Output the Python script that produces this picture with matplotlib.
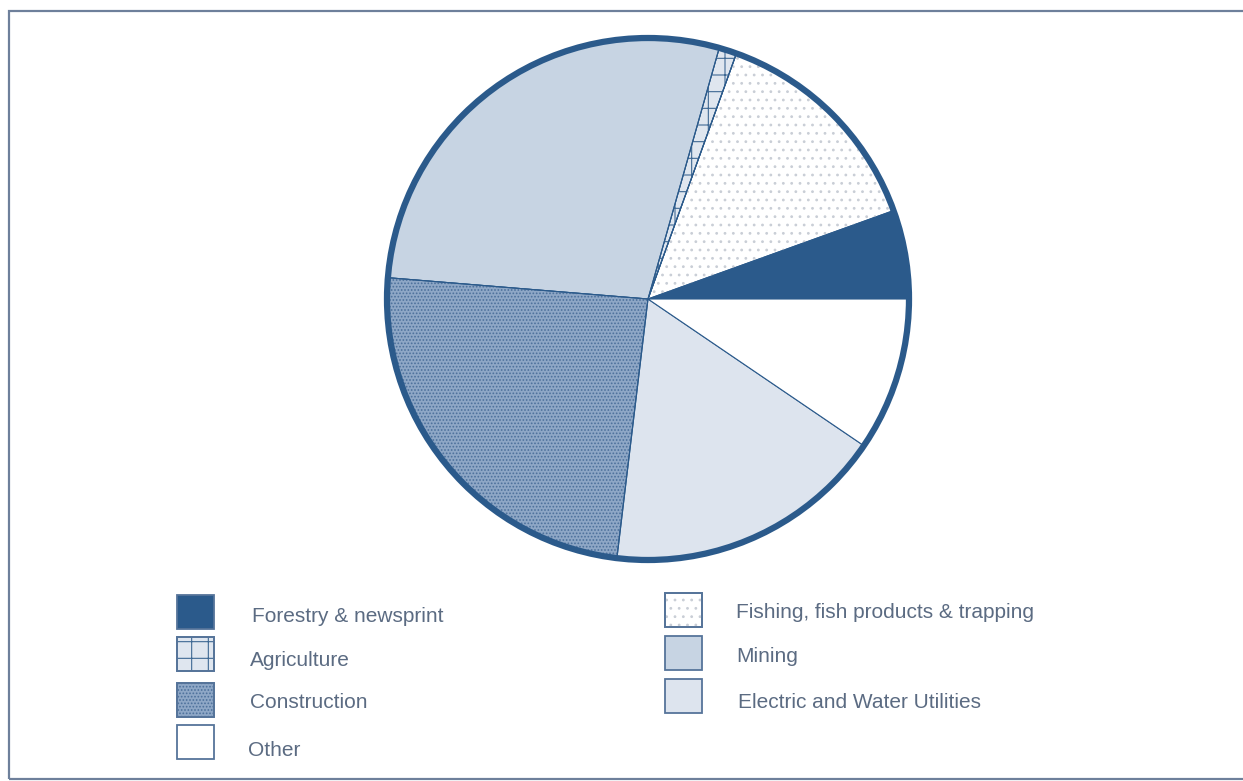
import matplotlib.pyplot as plt
from matplotlib.patches import Circle, Rectangle, Wedge

# sector shares (percent), drawn counter-clockwise from 3 o'clock
sectors = [
    "Forestry & newsprint",
    "Fishing, fish products & trapping",
    "Agriculture",
    "Mining",
    "Construction",
    "Electric and Water Utilities",
    "Other",
]
shares = [5.5, 14.0, 1.1, 28.1, 24.4, 17.4, 9.5]

# legend layout: left column then right column
legend_left = ["Forestry & newsprint", "Agriculture", "Construction", "Other"]
legend_right = ["Fishing, fish products & trapping", "Mining", "Electric and Water Utilities"]

DARK = "#2b5a8b"
TEXT = "#5b6b82"
styles = {
    "Forestry & newsprint": dict(face=DARK, hatch=None, hcol=None),
    "Fishing, fish products & trapping": dict(face="#ffffff", hatch="..", hcol="#c9ced6"),
    "Agriculture": dict(face="#dfe6ef", hatch="+", hcol="#3f6994"),
    "Mining": dict(face="#c7d4e3", hatch=None, hcol=None),
    "Construction": dict(face="#8ea7c6", hatch=".....", hcol="#4c709b"),
    "Electric and Water Utilities": dict(face="#dde4ee", hatch=None, hcol=None),
    "Other": dict(face="#ffffff", hatch=None, hcol=None),
}

W, H = 1243, 781
fig = plt.figure(figsize=(W / 100, H / 100), dpi=100)
ax = fig.add_axes([0, 0, 1, 1])
plt.rcParams["hatch.linewidth"] = 0.8

cx, cy, r = 648, H - 299, 260

wedges, _ = ax.pie(
    shares,
    colors=[styles[s]["face"] for s in sectors],
    startangle=0,
    counterclock=True,
    center=(cx, cy),
    radius=r,
    wedgeprops=dict(edgecolor=DARK, linewidth=0.8),
)

# hatch overlays on top of the flat fills
for w, name in zip(wedges, sectors):
    st = styles[name]
    if st["hatch"]:
        ax.add_patch(Wedge((cx, cy), r, w.theta1, w.theta2, facecolor="none",
                           edgecolor=st["hcol"], hatch=st["hatch"], linewidth=0))
        ax.add_patch(Wedge((cx, cy), r, w.theta1, w.theta2, facecolor="none",
                           edgecolor=DARK, linewidth=0.8))

ax.add_patch(Circle((cx, cy), r + 1, fill=False, edgecolor=DARK, linewidth=4.5))

# outer frame
ax.add_patch(Rectangle((9, H - 779), 1260, 768, fill=False,
                       edgecolor="#6e809b", linewidth=1.6))


def legend_item(name, bx, by_top, bw, bh, tx, ty):
    st = styles[name]
    y0 = H - by_top - bh
    ax.add_patch(Rectangle((bx, y0), bw, bh, facecolor=st["face"],
                           edgecolor="#56749a", linewidth=1.3))
    if st["hatch"]:
        ax.add_patch(Rectangle((bx, y0), bw, bh, facecolor="none",
                               edgecolor=st["hcol"], hatch=st["hatch"], linewidth=0))
        ax.add_patch(Rectangle((bx, y0), bw, bh, facecolor="none",
                               edgecolor="#56749a", linewidth=1.3))
    ax.text(tx, H - ty, name, fontsize=15, color=TEXT, va="center", ha="left",
            family="Liberation Sans")


left_boxes = [595, 637, 683, 725]
left_text_y = [616, 660, 703, 751]
left_text_x = [252, 250, 250, 248]
for name, by, ty, tx in zip(legend_left, left_boxes, left_text_y, left_text_x):
    legend_item(name, 177, by, 37, 34, tx, ty)

right_boxes = [593, 636, 679]
right_text_y = [612, 657, 702]
right_text_x = [736, 736, 738]
for name, by, ty, tx in zip(legend_right, right_boxes, right_text_y, right_text_x):
    legend_item(name, 665, by, 37, 34, tx, ty)

ax.set_xlim(0, W)
ax.set_ylim(0, H)
ax.set_aspect("equal")
ax.axis("off")

fig.savefig("out.png", dpi=100)
